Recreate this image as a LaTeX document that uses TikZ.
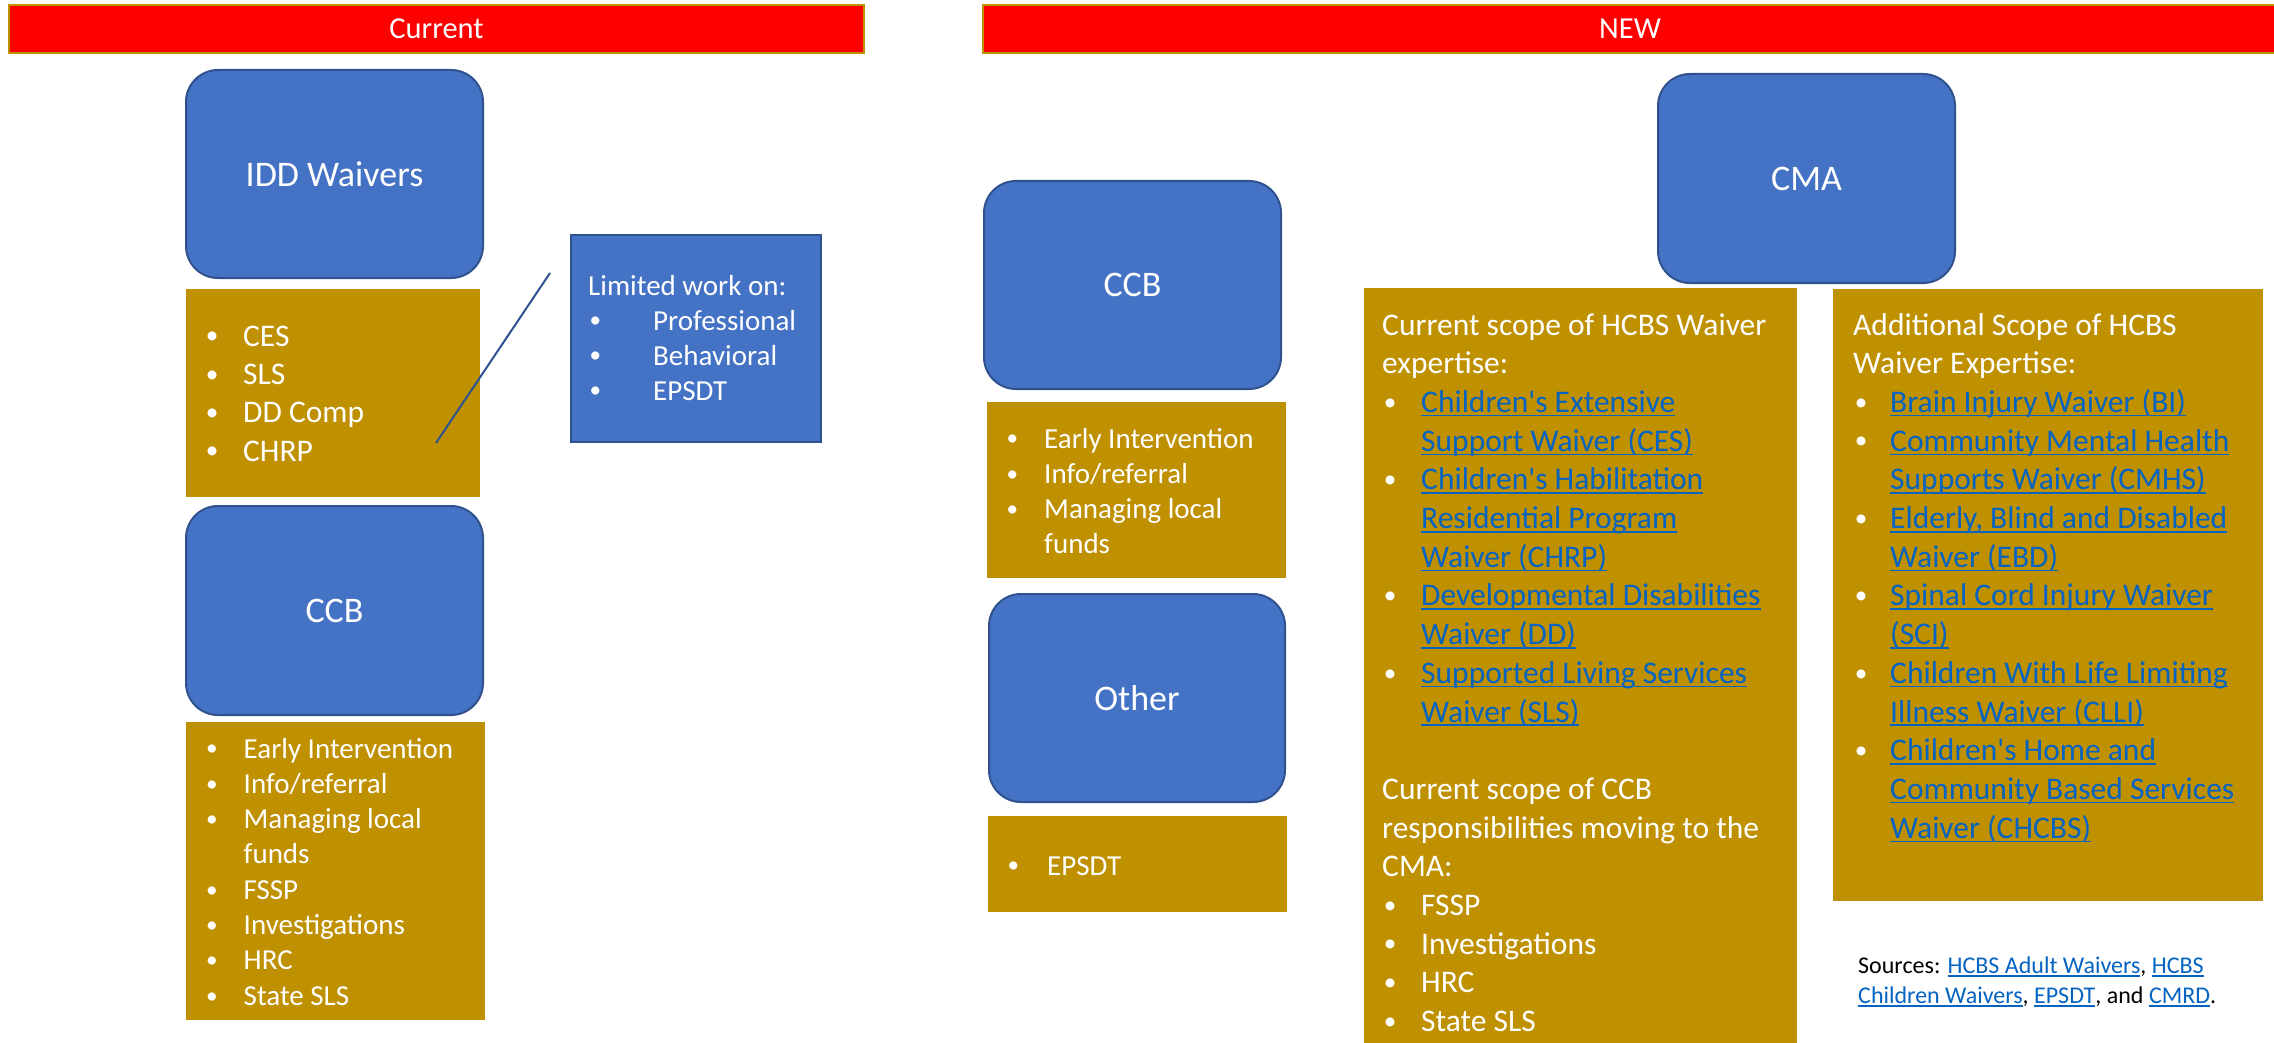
\documentclass[tikz,border=0pt]{standalone}
\usepackage{fontspec}
\setmainfont{Carlito}
\definecolor{bluebox}{HTML}{4472C4}
\definecolor{blueedge}{HTML}{2F528F}
\definecolor{goldbox}{HTML}{BF9000}
\definecolor{linkblue}{HTML}{0563C1}
\newcommand{\lnk}[1]{{\color{linkblue}\setbox0=\hbox{#1}\rlap{\rule[-4pt]{\wd0}{1.6pt}}\box0}}
\newcommand{\bi}[2]{\makebox[#1][l]{\hspace{0.05em}\raisebox{0.07em}{\scalebox{0.8}{\textbullet}}}#2}
\newcommand{\ci}[2]{\hspace*{#1}#2}
\newcommand{\ap}{\textquotesingle}
\tikzset{
  bar/.style={fill=red, draw=goldbox, line width=2.5pt, text=white, font=\fontsize{30.5pt}{36pt}\selectfont, inner sep=0pt},
  rbox/.style={fill=bluebox, draw=blueedge, line width=2pt, rounded corners=32pt, text=white, font=\fontsize{36pt}{43pt}\selectfont, inner sep=0pt, anchor=north west},
  sbox/.style={fill=bluebox, draw=blueedge, line width=2pt, inner sep=0pt, anchor=north west},
  gbox/.style={fill=goldbox, inner sep=0pt, anchor=north west},
  txt/.style={anchor=base west, inner sep=0pt, text=white, align=left},
  connector/.style={draw=blueedge, line width=2pt},
}
\begin{document}
\begin{tikzpicture}[x=1pt,y=-1pt]
\useasboundingbox (0,0) rectangle (2274,1043);
% header bars
\node[bar, minimum width=855pt, minimum height=48pt] (curbar) at (436.5,29) {Current};
\node[bar, minimum width=1294pt, minimum height=48pt] (newbar) at (1630,29) {NEW};
% left column
\node[rbox, minimum width=297pt, minimum height=208pt] (idd) at (185,69) {IDD Waivers};
\node[gbox, minimum width=294pt, minimum height=208pt] (g1) at (186,289) {};
\node[rbox, minimum width=297pt, minimum height=209pt] (ccbl) at (185,505) {CCB};
\node[gbox, minimum width=299pt, minimum height=298pt] (g2) at (186,722) {};
\node[sbox, minimum width=250pt, minimum height=207pt] (lim) at (570,234) {};
\coordinate (c1) at (550,273);
\coordinate (c2) at (436,443);
\draw[connector] (c1) -- (c2);
\node[txt, font=\fontsize{31.5pt}{38.4pt}\selectfont] (t1) at (204,346) {\begin{tabular}[t]{@{}l@{}}
\bi{39pt}{CES}\\
\bi{39pt}{SLS}\\
\bi{39pt}{DD Comp}\\
\bi{39pt}{CHRP}
\end{tabular}};
\node[txt, font=\fontsize{29pt}{35.3pt}\selectfont] (t2) at (204.5,758) {\begin{tabular}[t]{@{}l@{}}
\bi{39pt}{Early Intervention}\\
\bi{39pt}{Info/referral}\\
\bi{39pt}{Managing local}\\
\ci{39pt}{funds}\\
\bi{39pt}{FSSP}\\
\bi{39pt}{Investigations}\\
\bi{39pt}{HRC}\\
\bi{39pt}{State SLS}
\end{tabular}};
\node[txt, font=\fontsize{29pt}{35pt}\selectfont] (tlim) at (588,295) {\begin{tabular}[t]{@{}l@{}}
Limited work on:\\
\bi{65pt}{Professional}\\
\bi{65pt}{Behavioral}\\
\bi{65pt}{EPSDT}
\end{tabular}};
% right side
\node[rbox, minimum width=297pt, minimum height=209pt] (cma) at (1657,73) {CMA};
\node[rbox, minimum width=297pt, minimum height=208pt] (ccbr) at (983,180) {CCB};
\node[gbox, minimum width=299pt, minimum height=176pt] (g3) at (987,402) {};
\node[rbox, minimum width=296pt, minimum height=208pt] (other) at (988,593) {Other};
\node[gbox, minimum width=299pt, minimum height=96pt] (g4) at (988,816) {};
\node[gbox, minimum width=433pt, minimum height=760pt] (g5) at (1364,288) {};
\node[gbox, minimum width=430pt, minimum height=612pt] (g6) at (1833,289) {};
\node[txt, font=\fontsize{29pt}{35.3pt}\selectfont] (t3) at (1005,448) {\begin{tabular}[t]{@{}l@{}}
\bi{39pt}{Early Intervention}\\
\bi{39pt}{Info/referral}\\
\bi{39pt}{Managing local}\\
\ci{39pt}{funds}
\end{tabular}};
\node[txt, font=\fontsize{29pt}{35.3pt}\selectfont] (t4) at (1006,875) {\bi{41pt}{EPSDT}};
\node[txt, font=\fontsize{31.5pt}{38.7pt}\selectfont] (t5) at (1382,335) {\begin{tabular}[t]{@{}l@{}}
Current scope of HCBS Waiver\\
expertise:\\
\bi{39pt}{\lnk{Children\ap s Extensive}}\\
\ci{39pt}{\lnk{Support Waiver (CES)}}\\
\bi{39pt}{\lnk{Children\ap s Habilitation}}\\
\ci{39pt}{\lnk{Residential Program}}\\
\ci{39pt}{\lnk{Waiver (CHRP)}}\\
\bi{39pt}{\lnk{Developmental Disabilities}}\\
\ci{39pt}{\lnk{Waiver (DD)}}\\
\bi{39pt}{\lnk{Supported Living Services}}\\
\ci{39pt}{\lnk{Waiver (SLS)}}\\
\mbox{}\\
Current scope of CCB\\
responsibilities moving to the\\
CMA:\\
\bi{39pt}{FSSP}\\
\bi{39pt}{Investigations}\\
\bi{39pt}{HRC}\\
\bi{39pt}{State SLS}
\end{tabular}};
\node[txt, font=\fontsize{31.5pt}{38.7pt}\selectfont] (t6) at (1853,335) {\begin{tabular}[t]{@{}l@{}}
Additional Scope of HCBS\\
Waiver Expertise:\\
\bi{37pt}{\lnk{Brain Injury Waiver (BI)}}\\
\bi{37pt}{\lnk{Community Mental Health}}\\
\ci{37pt}{\lnk{Supports Waiver (CMHS)}}\\
\bi{37pt}{\lnk{Elderly, Blind and Disabled}}\\
\ci{37pt}{\lnk{Waiver (EBD)}}\\
\bi{37pt}{\lnk{Spinal Cord Injury Waiver}}\\
\ci{37pt}{\lnk{(SCI)}}\\
\bi{37pt}{\lnk{Children With Life Limiting}}\\
\ci{37pt}{\lnk{Illness Waiver (CLLI)}}\\
\bi{37pt}{\lnk{Children\ap s Home and}}\\
\ci{37pt}{\lnk{Community Based Services}}\\
\ci{37pt}{\lnk{Waiver (CHCBS)}}
\end{tabular}};
\node[txt, text=black, font=\fontsize{24pt}{30pt}\selectfont] (src) at (1858,973) {\begin{tabular}[t]{@{}l@{}}
Sources: \lnk{HCBS Adult Waivers}, \lnk{HCBS}\\
\lnk{Children Waivers}, \lnk{EPSDT}, and \lnk{CMRD}.
\end{tabular}};
\end{tikzpicture}
\end{document}
